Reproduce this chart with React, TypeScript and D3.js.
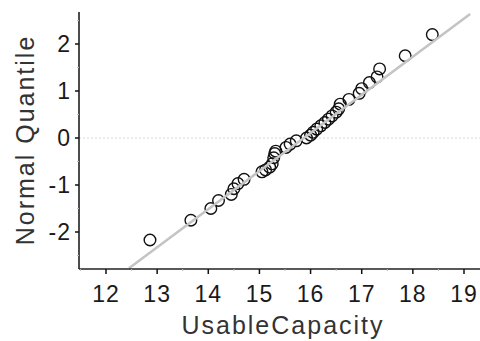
import React from "react";
import * as d3 from "d3";

const capacity = [
  12.86, 13.66, 14.05, 14.2, 14.45, 14.5, 14.58, 14.7, 15.05, 15.12, 15.2,
  15.25, 15.28, 15.3, 15.32, 15.52, 15.6, 15.72, 15.92, 16.0, 16.05, 16.12,
  16.2, 16.28, 16.35, 16.42, 16.5, 16.55, 16.58, 16.75, 16.95, 17.0, 17.15,
  17.3, 17.35, 17.85, 18.38,
];
const quantile = [
  -2.17, -1.75, -1.5, -1.33, -1.2, -1.08, -0.97, -0.88, -0.72, -0.68, -0.62,
  -0.55, -0.42, -0.33, -0.28, -0.2, -0.13, -0.06, 0.0, 0.06, 0.12, 0.19, 0.26,
  0.33, 0.4, 0.47, 0.55, 0.62, 0.72, 0.82, 0.95, 1.05, 1.18, 1.3, 1.47, 1.75,
  2.2,
];
const xTicks = [12, 13, 14, 15, 16, 17, 18, 19];
const yTicks = [-2, -1, 0, 1, 2];
// fitted reference line end points [capacity, quantile]
const refLine = [
  [12.45, -2.77],
  [19.12, 2.64],
];

const W = 480;
const H = 341;
const left = 79;
const bottom = 269;
const top = 12;

export default function App() {
  const x = d3.scaleLinear().domain([12, 19]).range([106, 464]);
  const y = d3.scaleLinear().domain([0, 2]).range([138, 44]);
  const minorX = d3.range(11.5, 19.6, 1);
  const minorY = d3.range(-2.5, 2.6, 1);
  const line = d3
    .line<number[]>()
    .x((d) => x(d[0]))
    .y((d) => y(d[1]));
  const font = "'Liberation Sans', Arial, sans-serif";

  return (
    <div style={{ position: "absolute", left: 0, top: 0 }}>
      <svg width={W} height={H} style={{ display: "block", background: "#fff" }}>
        {/* zero line */}
        <line
          x1={left}
          x2={W}
          y1={y(0)}
          y2={y(0)}
          stroke="#d8d8d8"
          strokeWidth={1}
          strokeDasharray="2 2"
        />
        {/* points */}
        {capacity.map((c, i) => (
          <circle
            key={i}
            cx={x(c)}
            cy={y(quantile[i])}
            r={5.8}
            fill="none"
            stroke="#111"
            strokeWidth={1.4}
          />
        ))}
        {/* reference line */}
        <path
          d={line(refLine) ?? ""}
          stroke="#c4c4c4"
          strokeWidth={2.6}
          fill="none"
        />
        {/* axes */}
        <line x1={left} x2={left} y1={top} y2={bottom} stroke="#111" strokeWidth={1.5} />
        <line x1={left} x2={W} y1={bottom} y2={bottom} stroke="#222" strokeWidth={1.5} />
        {minorX.map((t) => (
          <line key={"mx" + t} x1={x(t)} x2={x(t)} y1={bottom} y2={bottom + 2} stroke="#bbb" />
        ))}
        {minorY.map((t) => (
          <line key={"my" + t} x1={left - 2} x2={left} y1={y(t)} y2={y(t)} stroke="#bbb" />
        ))}
        {xTicks.map((t) => (
          <g key={"x" + t}>
            <line x1={x(t)} x2={x(t)} y1={bottom} y2={bottom + 5} stroke="#111" strokeWidth={1.5} />
            <text
              x={x(t)}
              y={302}
              textAnchor="middle"
              fontFamily={font}
              fontSize={23}
              letterSpacing={1}
              fill="#1a1a1a"
            >
              {t}
            </text>
          </g>
        ))}
        {yTicks.map((t) => (
          <g key={"y" + t}>
            <line x1={left - 4} x2={left} y1={y(t)} y2={y(t)} stroke="#111" strokeWidth={1.5} />
            <text
              x={71}
              y={y(t)}
              dy="0.36em"
              textAnchor="end"
              fontFamily={font}
              fontSize={23}
              letterSpacing={1}
              fill="#1a1a1a"
            >
              {t < 0 ? "-" + Math.abs(t) : t}
            </text>
          </g>
        ))}
        <text
          x={283}
          y={334}
          textAnchor="middle"
          fontFamily={font}
          fontSize={25}
          letterSpacing={2}
          fill="#333"
        >
          UsableCapacity
        </text>
        <text
          transform="translate(34,140) rotate(-90)"
          textAnchor="middle"
          fontFamily={font}
          fontSize={25}
          letterSpacing={2}
          fill="#333"
        >
          Normal Quantile
        </text>
      </svg>
    </div>
  );
}
